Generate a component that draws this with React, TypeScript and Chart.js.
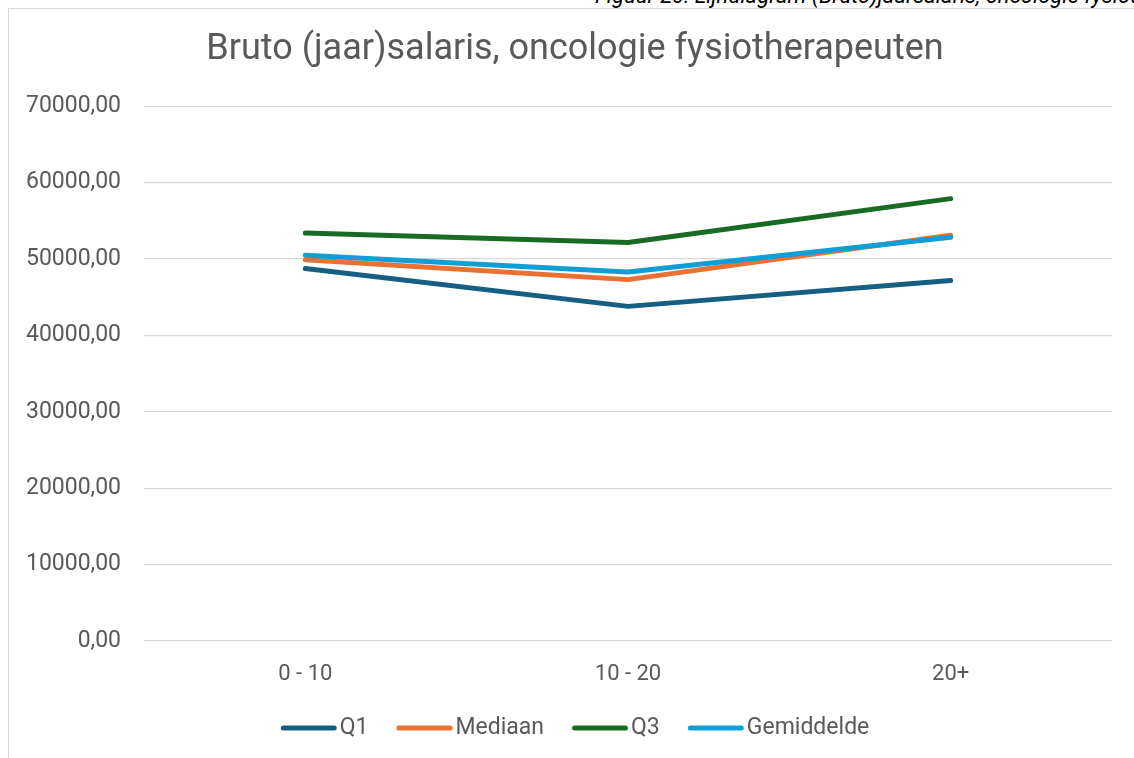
import React, { useEffect, useRef } from "react";
import { Chart, registerables } from "chart.js";

Chart.register(...registerables);

const categories = ["0 - 10", "10 - 20", "20+"];
const q1 = [48750, 43800, 47200];
const mediaan = [49900, 47300, 53100];
const q3 = [53400, 52150, 57900];
const gemiddelde = [50500, 48300, 52850];
const seriesNames = ["Q1", "Mediaan", "Q3", "Gemiddelde"];
const seriesColors = ["#156082", "#E97132", "#196B24", "#0F9ED5"];
const seriesValues = [q1, mediaan, q3, gemiddelde];
const yMin = 0;
const yMax = 70000;
const yStep = 10000;
const titleText = "Bruto (jaar)salaris, oncologie fysiotherapeuten";
const captionText = "Figuur 20: Lijndiagram (Bruto)jaarsalaris, oncologie fysiotherapeuten";

const TEXT = "#595959";
const GRID = "#d9d9d9";
const FONT = "Roboto";

function legendLine(color: string, boxW: number, lineLen: number, lw: number) {
  const c = boxW / 2;
  const hw = Math.max(c, lineLen - c);
  const W = Math.ceil(hw * 2);
  const cv = document.createElement("canvas");
  cv.width = W;
  cv.height = 10;
  const ctx = cv.getContext("2d")!;
  const off = W / 2 - c;
  ctx.strokeStyle = color;
  ctx.lineWidth = lw;
  ctx.lineCap = "round";
  ctx.beginPath();
  ctx.moveTo(off + lw / 2, 5);
  ctx.lineTo(off + lineLen - lw / 2, 5);
  ctx.stroke();
  return cv;
}

export default function App() {
  const ref = useRef<HTMLCanvasElement | null>(null);

  useEffect(() => {
    if (!ref.current) return;
    const legendFont = 23;
    const boxW = 59 - legendFont / 2;
    const imgs = seriesColors.map((c) => legendLine(c, boxW, 56, 5));
    const n = seriesNames.length;
    const chart = new Chart(ref.current, {
      type: "line",
      data: {
        labels: categories,
        datasets: seriesNames.map((name, i) => ({
          label: name,
          data: seriesValues[i],
          borderColor: seriesColors[i],
          backgroundColor: seriesColors[i],
          borderWidth: 5,
          borderCapStyle: "round",
          borderJoinStyle: "round",
          pointRadius: 0,
          pointHoverRadius: 0,
          tension: 0,
          fill: false,
          order: n - i,
        })),
      },
      options: {
        animation: false,
        responsive: false,
        devicePixelRatio: 1,
        layout: { padding: { left: 0, right: 0, top: 0, bottom: 10.5 } },
        plugins: {
          tooltip: { enabled: false },
          title: {
            display: true,
            text: titleText,
            color: TEXT,
            font: { family: FONT, size: 36, weight: "normal" },
            padding: { top: 19.5, bottom: 34.5 },
          },
          legend: {
            display: true,
            position: "bottom",
            labels: {
              usePointStyle: true,
              pointStyleWidth: boxW,
              boxHeight: 5,
              padding: 28,
              color: TEXT,
              font: { family: FONT, size: legendFont },
              generateLabels: (ch: any) =>
                ch.data.datasets.map((ds: any, i: number) => ({
                  text: ds.label,
                  fillStyle: ds.borderColor,
                  strokeStyle: ds.borderColor,
                  lineWidth: 0,
                  hidden: !ch.isDatasetVisible(i),
                  datasetIndex: i,
                  pointStyle: imgs[i],
                  fontColor: TEXT,
                })),
            },
          },
        },
        scales: {
          x: {
            offset: true,
            grid: { display: false, drawTicks: false },
            border: { display: false },
            ticks: {
              color: TEXT,
              font: { family: FONT, size: 22 },
              padding: 20,
              maxRotation: 0,
            },
            afterFit: (s: any) => {
              s.height = 47.5;
            },
          },
          y: {
            min: yMin,
            max: yMax,
            grid: { color: GRID, lineWidth: 1.3, drawTicks: false },
            border: { display: false },
            ticks: {
              stepSize: yStep,
              color: TEXT,
              padding: 23,
              font: { family: FONT, size: 23 },
              callback: (v: any) => Number(v).toFixed(2).replace(".", ","),
            },
            afterFit: (s: any) => {
              s.width = 135;
            },
          },
          yRight: {
            position: "right",
            display: true,
            grid: { display: false, drawTicks: false },
            border: { display: false },
            ticks: { display: false },
            afterFit: (s: any) => {
              s.width = 29;
            },
          },
        },
      },
    } as any);
    return () => chart.destroy();
  }, []);

  return (
    <div
      style={{
        position: "fixed",
        left: 0,
        top: 0,
        width: 1134,
        height: 758,
        overflow: "hidden",
        background: "#fff",
      }}
    >
      <div
        style={{
          position: "absolute",
          left: 595,
          top: -15,
          whiteSpace: "nowrap",
          fontFamily: FONT,
          fontStyle: "italic",
          fontSize: 22,
          lineHeight: "22px",
          color: "#000",
        }}
      >
        {captionText}
      </div>
      <div
        style={{
          position: "absolute",
          left: 8,
          top: 8,
          width: 1132,
          height: 751,
          border: `1px solid ${GRID}`,
          background: "#fff",
        }}
      >
        <canvas ref={ref} width={1132} height={751} style={{ display: "block" }} />
      </div>
    </div>
  );
}
